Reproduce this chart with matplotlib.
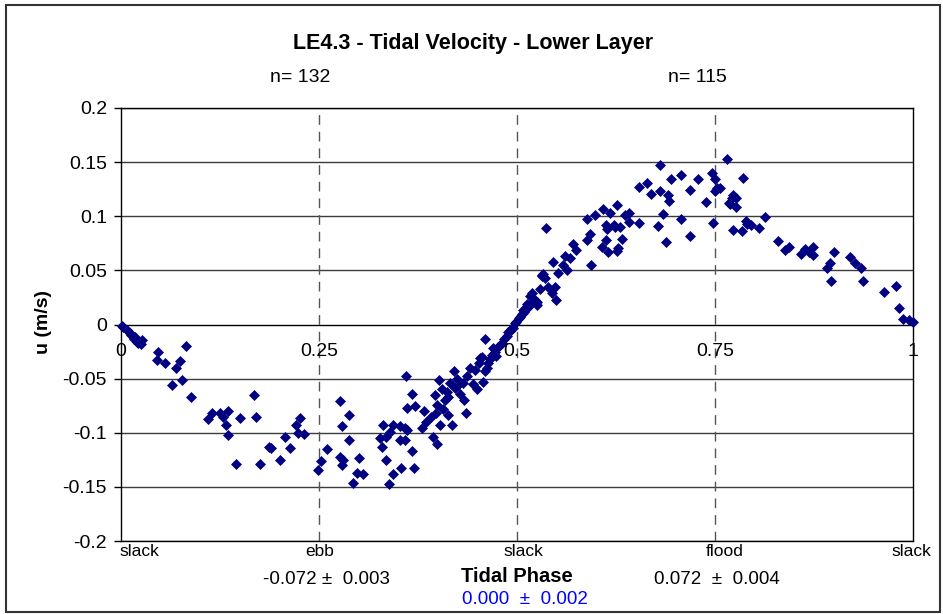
import matplotlib.pyplot as plt
from matplotlib.patches import Rectangle

# Tidal phase (0-1) and along-channel velocity u (m/s), lower layer
ebb_phase = [0.001, 0.003, 0.007, 0.011, 0.013, 0.016, 0.018, 0.020, 0.022, 0.025,
             0.026, 0.045, 0.047, 0.056, 0.064, 0.070, 0.074, 0.077, 0.082, 0.089,
             0.110, 0.115, 0.125, 0.129, 0.133, 0.135, 0.135, 0.145, 0.150, 0.168,
             0.171, 0.176, 0.187, 0.190, 0.201, 0.207, 0.213, 0.221, 0.223, 0.226,
             0.231, 0.249, 0.253, 0.260, 0.276, 0.276, 0.279, 0.279, 0.280, 0.288,
             0.288, 0.293, 0.298, 0.300, 0.305, 0.327, 0.330, 0.331, 0.335, 0.335,
             0.338, 0.340, 0.343, 0.344, 0.352, 0.352, 0.354, 0.359, 0.359, 0.360,
             0.361, 0.361, 0.367, 0.368, 0.370, 0.371, 0.380, 0.382, 0.385, 0.392,
             0.394, 0.396, 0.398, 0.399, 0.399, 0.402, 0.403, 0.405, 0.406, 0.409,
             0.411, 0.413, 0.413, 0.415, 0.418, 0.420, 0.422, 0.424, 0.426, 0.428,
             0.432, 0.433, 0.435, 0.437, 0.441, 0.444, 0.447, 0.449, 0.452, 0.453,
             0.456, 0.457, 0.460, 0.460, 0.462, 0.464, 0.466, 0.468, 0.470, 0.472,
             0.474, 0.476, 0.478, 0.481, 0.484, 0.487, 0.489, 0.491, 0.493, 0.495,
             0.497, 0.499]
ebb_u = [-0.001, -0.002, -0.005, -0.008, -0.010, -0.013, -0.012, -0.016, -0.017, -0.018,
         -0.014, -0.033, -0.025, -0.036, -0.056, -0.040, -0.034, -0.051, -0.020, -0.067,
         -0.087, -0.082, -0.082, -0.085, -0.093, -0.080, -0.102, -0.129, -0.086, -0.065,
         -0.085, -0.129, -0.113, -0.114, -0.125, -0.104, -0.114, -0.093, -0.100, -0.086,
         -0.101, -0.134, -0.126, -0.115, -0.071, -0.122, -0.094, -0.130, -0.125, -0.084,
         -0.107, -0.146, -0.137, -0.123, -0.138, -0.105, -0.113, -0.093, -0.104, -0.125,
         -0.147, -0.099, -0.138, -0.093, -0.094, -0.107, -0.133, -0.096, -0.107, -0.048,
         -0.077, -0.097, -0.117, -0.064, -0.133, -0.075, -0.096, -0.080, -0.090, -0.085,
         -0.104, -0.065, -0.082, -0.074, -0.110, -0.051, -0.093, -0.060, -0.078, -0.070,
         -0.062, -0.067, -0.084, -0.054, -0.093, -0.043, -0.059, -0.050, -0.056, -0.064,
         -0.054, -0.070, -0.082, -0.048, -0.040, -0.055, -0.042, -0.060, -0.036, -0.031,
         -0.030, -0.053, -0.013, -0.043, -0.040, -0.036, -0.032, -0.028, -0.022, -0.025,
         -0.029, -0.021, -0.019, -0.017, -0.013, -0.011, -0.007, -0.006, -0.004, -0.003,
         0.001, 0.002]

flood_phase = [0.502, 0.504, 0.506, 0.508, 0.509, 0.512, 0.512, 0.515, 0.516, 0.519,
               0.519, 0.523, 0.525, 0.525, 0.529, 0.531, 0.532, 0.533, 0.535, 0.537,
               0.539, 0.544, 0.546, 0.548, 0.549, 0.552, 0.558, 0.561, 0.563, 0.567,
               0.571, 0.575, 0.588, 0.588, 0.592, 0.594, 0.598, 0.607, 0.608, 0.612,
               0.613, 0.614, 0.615, 0.617, 0.622, 0.624, 0.626, 0.626, 0.628, 0.630,
               0.632, 0.636, 0.642, 0.642, 0.654, 0.654, 0.664, 0.669, 0.678, 0.680,
               0.681, 0.684, 0.688, 0.691, 0.692, 0.695, 0.707, 0.707, 0.718, 0.718,
               0.729, 0.739, 0.746, 0.747, 0.750, 0.750, 0.752, 0.756, 0.765, 0.768,
               0.769, 0.772, 0.773, 0.773, 0.776, 0.776, 0.784, 0.785, 0.789, 0.790,
               0.795, 0.805, 0.813, 0.829, 0.838, 0.843, 0.859, 0.864, 0.869, 0.874,
               0.874, 0.892, 0.895, 0.897, 0.900, 0.920, 0.927, 0.934, 0.937, 0.964,
               0.979, 0.982, 0.987, 0.995, 1.000]
flood_u = [0.006, 0.007, 0.010, 0.013, 0.012, 0.015, 0.019, 0.017, 0.026, 0.020,
           0.029, 0.023, 0.018, 0.021, 0.033, 0.045, 0.046, 0.047, 0.043, 0.089,
           0.035, 0.029, 0.058, 0.035, 0.023, 0.048, 0.055, 0.063, 0.050, 0.061,
           0.074, 0.069, 0.078, 0.097, 0.084, 0.055, 0.101, 0.072, 0.107, 0.078,
           0.092, 0.088, 0.067, 0.103, 0.092, 0.090, 0.110, 0.068, 0.071, 0.090,
           0.079, 0.101, 0.103, 0.095, 0.094, 0.127, 0.131, 0.121, 0.091, 0.147,
           0.123, 0.102, 0.076, 0.120, 0.114, 0.134, 0.138, 0.097, 0.124, 0.082,
           0.134, 0.113, 0.140, 0.094, 0.134, 0.123, 0.126, 0.126, 0.153, 0.112,
           0.111, 0.117, 0.120, 0.087, 0.109, 0.117, 0.086, 0.135, 0.096, 0.093,
           0.092, 0.089, 0.099, 0.077, 0.069, 0.072, 0.065, 0.070, 0.067, 0.072,
           0.064, 0.052, 0.057, 0.040, 0.067, 0.062, 0.057, 0.052, 0.040, 0.030,
           0.036, 0.015, 0.005, 0.004, 0.002]

x_ticks = [0, 0.25, 0.5, 0.75, 1]
x_tick_labels = ["0", "0.25", "0.5", "0.75", "1"]
y_ticks = [-0.2, -0.15, -0.1, -0.05, 0, 0.05, 0.1, 0.15, 0.2]
y_tick_labels = ["-0.2", "-0.15", "-0.1", "-0.05", "0", "0.05", "0.1", "0.15", "0.2"]
phase_names = ["slack", "ebb", "slack", "flood", "slack"]

plt.rcParams['font.family'] = ['Liberation Sans', 'DejaVu Sans']

W, H = 943, 614
fig = plt.figure(figsize=(W / 100, H / 100), dpi=100)
ax = fig.add_axes([121 / W, 1 - 541 / H, 792 / W, 433 / H])

def fx(px):
    return px / W

def fy(py):
    return 1 - py / H

# grid lines (Excel style)
for v in y_ticks:
    ax.axhline(v, color='black' if v == 0 else '#3c3c3c', linewidth=1.0, zorder=1)
for v in [0.25, 0.5, 0.75]:
    ax.axvline(v, color='#555555', linewidth=1.0, dashes=(7, 5), zorder=1)

ax.plot(ebb_phase, ebb_u, linestyle='none', marker='D', markersize=5.0,
        color='#000080', markeredgewidth=0.5, zorder=3, clip_on=False)
ax.plot(flood_phase, flood_u, linestyle='none', marker='D', markersize=5.0,
        color='#000080', markeredgewidth=0.5, zorder=3, clip_on=False)

ax.set_xlim(0, 1)
ax.set_ylim(-0.2, 0.2)
ax.set_yticks(y_ticks)
ax.set_yticklabels(y_tick_labels)
ax.tick_params(axis='y', direction='out', length=5, width=1, labelsize=14, pad=5)
ax.tick_params(axis='x', bottom=False, labelbottom=False)
for s in ax.spines.values():
    s.set_linewidth(1.0)
    s.set_color('black')

# x-axis labels sit under the zero line
for v, lab in zip(x_ticks, x_tick_labels):
    ax.annotate(lab, xy=(v, 0), xytext=(0, -13), textcoords='offset points',
                ha='center', va='top', fontsize=14, zorder=4)

fig.text(fx(473), fy(43), "LE4.3 - Tidal Velocity - Lower Layer", ha='center',
         va='center', fontsize=15.5, fontweight='bold')
fig.text(fx(300), fy(77), "n= 132", ha='center', va='center', fontsize=14)
fig.text(fx(697), fy(77), "n= 115", ha='center', va='center', fontsize=14)
fig.text(fx(43), fy(322), "u (m/s)", ha='center', va='center', rotation=90,
         fontsize=14, fontweight='bold')

name_x = [139, 320, 523, 725, 911]
for px, lab in zip(name_x, phase_names):
    fig.text(fx(px), fy(552), lab, ha='center', va='center', fontsize=12.5)

fig.text(fx(326), fy(580), "-0.072 \u00b1  0.003", ha='center', va='center', fontsize=13.5)
fig.text(fx(517), fy(577), "Tidal Phase", ha='center', va='center', fontsize=14.5,
         fontweight='bold')
fig.text(fx(717), fy(580), "0.072  \u00b1  0.004", ha='center', va='center', fontsize=13.5)
fig.text(fx(525), fy(600), "0.000  \u00b1  0.002", ha='center', va='center',
         fontsize=13.5, color='#0000ff')

# outer chart frame
fig.patches.append(Rectangle((fx(6), fy(612)), fx(934), 607 / H, transform=fig.transFigure,
                             fill=False, edgecolor='#333333', linewidth=1.5))

fig.savefig('out.png', dpi=100)
